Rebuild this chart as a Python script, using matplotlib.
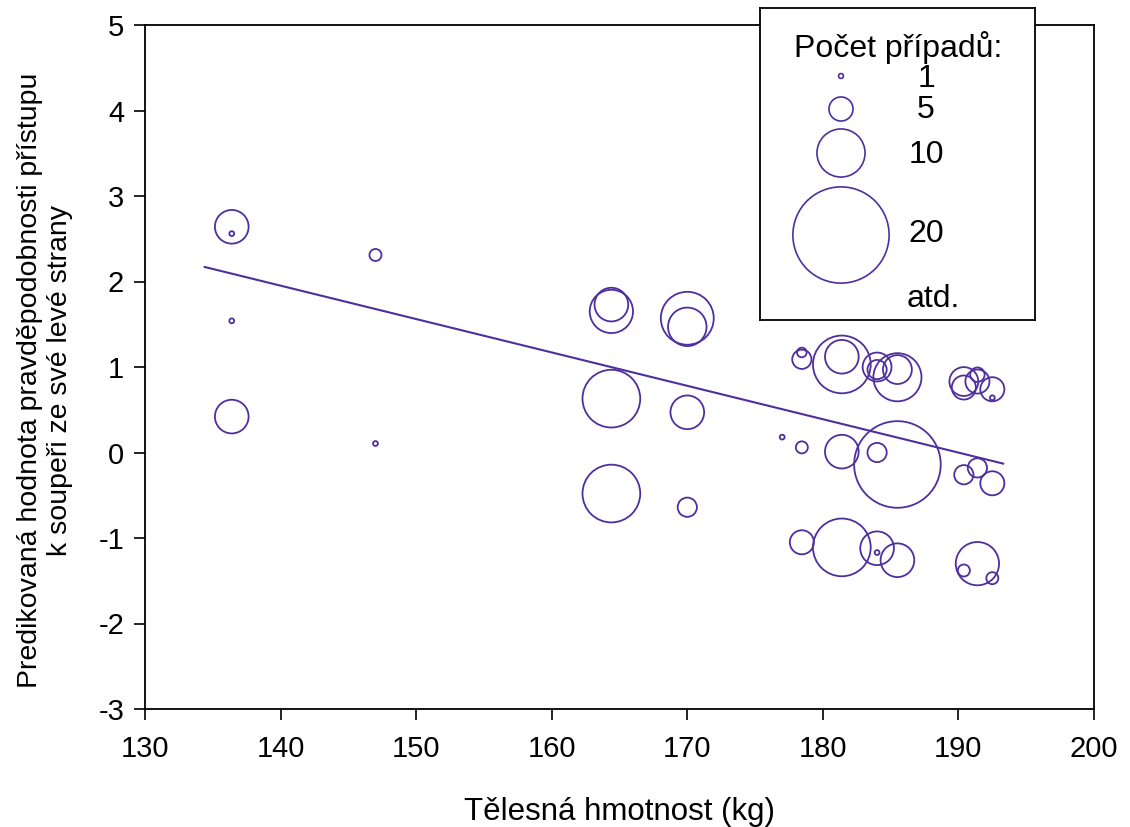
#!/usr/bin/env python3
"""Bubble plot: predicted left-side approach vs. body mass, bubble size = case count."""

import matplotlib
matplotlib.use("Agg")
import matplotlib.pyplot as plt

plt.rcParams["font.family"] = ["Liberation Sans", "DejaVu Sans"]
plt.rcParams["axes.unicode_minus"] = False

PURPLE = "#4f2f9f"

# body mass (kg), predicted value, number of cases
mass = [136.4, 136.4, 136.4, 136.4, 147.0, 147.0,
        164.4, 164.4, 170.0, 170.0, 164.4, 170.0, 164.4, 170.0,
        178.45, 178.45, 181.4, 181.4, 184.0, 184.0, 185.5, 185.5,
        190.4, 190.4, 191.4, 191.4, 192.5, 192.5,
        177.0, 178.45, 181.4, 184.0, 185.5, 190.4, 191.4, 192.5,
        178.45, 181.4, 184.0, 184.0, 185.5, 191.4, 190.4, 192.5]
pred = [2.64, 2.56, 1.54, 0.42, 2.31, 0.105,
        1.65, 1.73, 1.57, 1.47, 0.63, 0.47, -0.48, -0.64,
        1.09, 1.17, 1.03, 1.12, 1.00, 0.97, 0.88, 0.97,
        0.83, 0.76, 0.83, 0.91, 0.74, 0.64,
        0.18, 0.06, 0.01, 0.00, -0.14, -0.26, -0.18, -0.36,
        -1.05, -1.11, -1.12, -1.17, -1.26, -1.30, -1.38, -1.47]
cases = [7, 1, 1, 7, 2.5, 1,
         9, 7, 11, 8, 12, 7, 12, 4,
         4, 2, 12, 7, 6, 4, 10, 6,
         6, 5, 5, 3, 5, 1,
         1, 2.5, 7, 4, 18, 4, 4, 5,
         5, 12, 7, 1, 7, 9, 2.5, 2.5]

# fitted line end points
fit_x = [134.4, 193.3]
fit_y = [2.17, -0.13]

legend_cases = [1, 5, 10, 20]
legend_labels = ["1", "5", "10", "20"]


def msize(n):
    return 12.0 * n ** 2


fig = plt.figure(figsize=(11.3, 8.27), dpi=100)
ax = fig.add_axes([145 / 1130, 1 - 709 / 827, 949 / 1130, 684 / 827])

ax.scatter(mass, pred, s=[msize(n) for n in cases], facecolors="none",
           edgecolors=PURPLE, linewidths=1.3, zorder=3)
ax.plot(fit_x, fit_y, color=PURPLE, lw=1.5, zorder=2)

ax.set_xlim(130, 200)
ax.set_ylim(-3, 5)
ax.set_xticks(range(130, 201, 10))
ax.set_yticks(range(-3, 6))
ax.tick_params(direction="out", length=8, width=1.2, labelsize=21)
ax.tick_params(axis="x", pad=11)
ax.tick_params(axis="y", pad=7)
for sp in ax.spines.values():
    sp.set_linewidth(1.3)

ax.set_xlabel("Tělesná hmotnost (kg)", fontsize=22.5, labelpad=24)
ax.set_ylabel("Predikovaná hodnota pravděpodobnosti přístupu\n"
              "k soupeři ze své levé strany", fontsize=20.5,
              linespacing=1.2)
ax.yaxis.set_label_coords(-0.076, 0.48)

# size legend box, drawn in its own pixel-unit axes
lg = fig.add_axes([760 / 1130, 1 - 320 / 827, 275 / 1130, 312 / 827])
lg.set_xlim(0, 275)
lg.set_ylim(312, 0)
lg.set_xticks([])
lg.set_yticks([])
lg.set_facecolor("white")
for sp in lg.spines.values():
    sp.set_linewidth(1.3)

lg.text(138, 40, "Počet případů:", fontsize=23, ha="center", va="center")
lg.scatter([81] * len(legend_cases), [68, 101, 145, 227],
           s=[msize(n) for n in legend_cases], facecolors="none",
           edgecolors=PURPLE, linewidths=1.2, clip_on=False)
for lab, yy in zip(legend_labels, [71, 102, 147, 226]):
    lg.text(166, yy, lab, fontsize=23, ha="center", va="center")
lg.text(173, 291, "atd.", fontsize=23, ha="center", va="center")

fig.savefig("out.png", dpi=100)
